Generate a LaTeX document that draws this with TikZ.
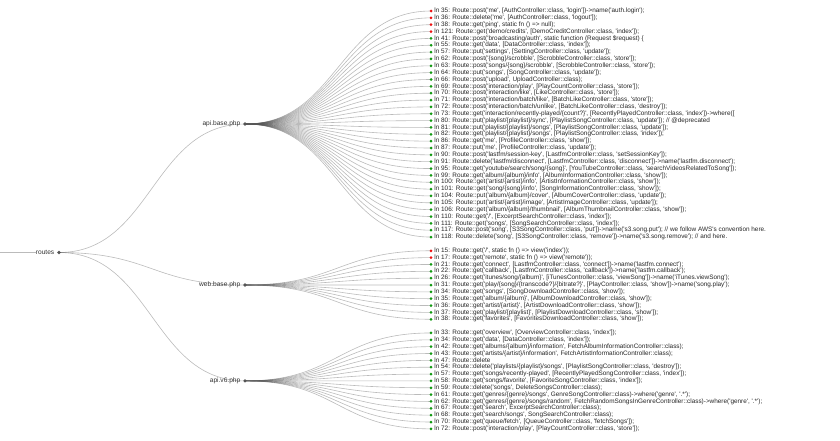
\documentclass[tikz,border=0pt]{standalone}
\usepackage{fontspec}
\newfontfamily\routefont{Liberation Sans}[Ligatures=TeXOff]
\usetikzlibrary{backgrounds}
\definecolor{hubgray}{HTML}{555555}
\definecolor{okgreen}{HTML}{119911}
\definecolor{offred}{HTML}{EE1111}
\tikzset{
    leafdot/.style={circle, inner sep=0pt, minimum size=3pt},
    hubdot/.style={circle, fill=hubgray, inner sep=0pt, minimum size=3.6pt},
    routetext/.style={anchor=west, inner sep=0pt, text=black!85, font=\routefont\fontsize{6.4}{7}\selectfont},
    hublabel/.style={inner sep=0pt, label distance=2.5pt, text=black!80, font=\routefont\fontsize{6.6}{7}\selectfont},
    branch/.style={draw=hubgray, draw opacity=0.4, line width=0.6pt}
}
\begin{document}
\begin{tikzpicture}[x=1pt,y=-1pt]
        \useasboundingbox (0,0) rectangle (840,440);
        % hubs
        \node[hubdot, label={[hublabel,name=rootlabel]left:routes}] (routes) at (59,252.5) {};
        \node[hubdot, label={[hublabel]left:api.base.php}] (apibase) at (245,124) {};
        \node[hubdot, label={[hublabel]left:web.base.php}] (webbase) at (245,285) {};
        \node[hubdot, label={[hublabel]left:api.v6.php}] (apivsix) at (245,380.9) {};
        \coordinate (rootin) at (0,252.5);
        \coordinate (hubmid) at (152,0);
        \coordinate (leafmid) at (338,0);
        % api.base.php
        \foreach [count=\i] \dotcol/\routeline in {
            offred/{ln 35: Route::post('me', [AuthController::class, 'login'])->name('auth.login');},
            offred/{ln 36: Route::delete('me', [AuthController::class, 'logout']);},
            offred/{ln 38: Route::get('ping', static fn () => null);},
            offred/{ln 121: Route::get('demo/credits', [DemoCreditController::class, 'index']);},
            okgreen/{ln 41: Route::post('broadcasting/auth', static function (Request \$request) \{},
            okgreen/{ln 55: Route::get('data', [DataController::class, 'index']);},
            okgreen/{ln 57: Route::put('settings', [SettingController::class, 'update']);},
            okgreen/{ln 62: Route::post('\{song\}/scrobble', [ScrobbleController::class, 'store']);},
            okgreen/{ln 63: Route::post('songs/\{song\}/scrobble', [ScrobbleController::class, 'store']);},
            okgreen/{ln 64: Route::put('songs', [SongController::class, 'update']);},
            okgreen/{ln 66: Route::post('upload', UploadController::class);},
            okgreen/{ln 69: Route::post('interaction/play', [PlayCountController::class, 'store']);},
            okgreen/{ln 70: Route::post('interaction/like', [LikeController::class, 'store']);},
            okgreen/{ln 71: Route::post('interaction/batch/like', [BatchLikeController::class, 'store']);},
            okgreen/{ln 72: Route::post('interaction/batch/unlike', [BatchLikeController::class, 'destroy']);},
            okgreen/{ln 73: Route::get('interaction/recently-played/\{count?\}', [RecentlyPlayedController::class, 'index'])->where([},
            okgreen/{ln 80: Route::put('playlist/\{playlist\}/sync', [PlaylistSongController::class, 'update']); // @deprecated},
            okgreen/{ln 81: Route::put('playlist/\{playlist\}/songs', [PlaylistSongController::class, 'update']);},
            okgreen/{ln 82: Route::get('playlist/\{playlist\}/songs', [PlaylistSongController::class, 'index']);},
            okgreen/{ln 86: Route::get('me', [ProfileController::class, 'show']);},
            okgreen/{ln 87: Route::put('me', [ProfileController::class, 'update']);},
            okgreen/{ln 90: Route::post('lastfm/session-key', [LastfmController::class, 'setSessionKey']);},
            okgreen/{ln 91: Route::delete('lastfm/disconnect', [LastfmController::class, 'disconnect'])->name('lastfm.disconnect');},
            okgreen/{ln 95: Route::get('youtube/search/song/\{song\}', [YouTubeController::class, 'searchVideosRelatedToSong']);},
            okgreen/{ln 99: Route::get('album/\{album\}/info', [AlbumInformationController::class, 'show']);},
            okgreen/{ln 100: Route::get('artist/\{artist\}/info', [ArtistInformationController::class, 'show']);},
            okgreen/{ln 101: Route::get('song/\{song\}/info', [SongInformationController::class, 'show']);},
            okgreen/{ln 104: Route::put('album/\{album\}/cover', [AlbumCoverController::class, 'update']);},
            okgreen/{ln 105: Route::put('artist/\{artist\}/image', [ArtistImageController::class, 'update']);},
            okgreen/{ln 106: Route::get('album/\{album\}/thumbnail', [AlbumThumbnailController::class, 'show']);},
            okgreen/{ln 110: Route::get('/', [ExcerptSearchController::class, 'index']);},
            okgreen/{ln 111: Route::get('songs', [SongSearchController::class, 'index']);},
            okgreen/{ln 117: Route::post('song', [S3SongController::class, 'put'])->name('s3.song.put'); // we follow AWS's convention here.},
            okgreen/{ln 118: Route::delete('song', [S3SongController::class, 'remove'])->name('s3.song.remove'); // and here.}} {
            \node[leafdot, fill=\dotcol] (api\i) at (431,{11+(\i-1)*6.85}) {};
            \node[routetext] at ([xshift=1.5pt]api\i.east) {\routeline};
        }
        % web.base.php
        \foreach [count=\i] \dotcol/\routeline in {
            offred/{ln 15: Route::get('/', static fn () => view('index'));},
            offred/{ln 17: Route::get('remote', static fn () => view('remote'));},
            okgreen/{ln 21: Route::get('connect', [LastfmController::class, 'connect'])->name('lastfm.connect');},
            okgreen/{ln 22: Route::get('callback', [LastfmController::class, 'callback'])->name('lastfm.callback');},
            okgreen/{ln 26: Route::get('itunes/song/\{album\}', [iTunesController::class, 'viewSong'])->name('iTunes.viewSong');},
            okgreen/{ln 31: Route::get('play/\{song\}/\{transcode?\}/\{bitrate?\}', [PlayController::class, 'show'])->name('song.play');},
            okgreen/{ln 34: Route::get('songs', [SongDownloadController::class, 'show']);},
            okgreen/{ln 35: Route::get('album/\{album\}', [AlbumDownloadController::class, 'show']);},
            okgreen/{ln 36: Route::get('artist/\{artist\}', [ArtistDownloadController::class, 'show']);},
            okgreen/{ln 37: Route::get('playlist/\{playlist\}', [PlaylistDownloadController::class, 'show']);},
            okgreen/{ln 38: Route::get('favorites', [FavoritesDownloadController::class, 'show']);}} {
            \node[leafdot, fill=\dotcol] (web\i) at (431,{11+(\i+34)*6.85}) {};
            \node[routetext] at ([xshift=1.5pt]web\i.east) {\routeline};
        }
        % api.v6.php
        \foreach [count=\i] \dotcol/\routeline in {
            okgreen/{ln 33: Route::get('overview', [OverviewController::class, 'index']);},
            okgreen/{ln 34: Route::get('data', [DataController::class, 'index']);},
            okgreen/{ln 42: Route::get('albums/\{album\}/information', FetchAlbumInformationController::class);},
            okgreen/{ln 43: Route::get('artists/\{artist\}/information', FetchArtistInformationController::class);},
            okgreen/{ln 47: Route::delete},
            okgreen/{ln 54: Route::delete('playlists/\{playlist\}/songs', [PlaylistSongController::class, 'destroy']);},
            okgreen/{ln 57: Route::get('songs/recently-played', [RecentlyPlayedSongController::class, 'index']);},
            okgreen/{ln 58: Route::get('songs/favorite', [FavoriteSongController::class, 'index']);},
            okgreen/{ln 59: Route::delete('songs', DeleteSongsController::class);},
            okgreen/{ln 61: Route::get('genres/\{genre\}/songs', GenreSongController::class)->where('genre', '.*');},
            okgreen/{ln 62: Route::get('genres/\{genre\}/songs/random', FetchRandomSongsInGenreController::class)->where('genre', '.*');},
            okgreen/{ln 67: Route::get('search', ExcerptSearchController::class);},
            okgreen/{ln 68: Route::get('search/songs', SongSearchController::class);},
            okgreen/{ln 70: Route::get('queue/fetch', [QueueController::class, 'fetchSongs']);},
            okgreen/{ln 72: Route::post('interaction/play', [PlayCountController::class, 'store']);}} {
            \node[leafdot, fill=\dotcol] (vsix\i) at (431,{11+(\i+46)*6.85}) {};
            \node[routetext] at ([xshift=1.5pt]vsix\i.east) {\routeline};
        }
        % links
        \begin{scope}[on background layer]
            \draw[branch] (rootin) -- (rootlabel.west);
            \foreach \hub in {apibase,webbase,apivsix}
                \draw[branch] (routes.center) .. controls (routes -| hubmid) and (\hub -| hubmid) .. (\hub.center);
            \foreach \i in {1,...,34}
                \draw[branch] (apibase.center) .. controls (apibase -| leafmid) and (api\i -| leafmid) .. (api\i.center);
            \foreach \i in {1,...,11}
                \draw[branch] (webbase.center) .. controls (webbase -| leafmid) and (web\i -| leafmid) .. (web\i.center);
            \foreach \i in {1,...,15}
                \draw[branch] (apivsix.center) .. controls (apivsix -| leafmid) and (vsix\i -| leafmid) .. (vsix\i.center);
        \end{scope}
\end{tikzpicture}
\end{document}
